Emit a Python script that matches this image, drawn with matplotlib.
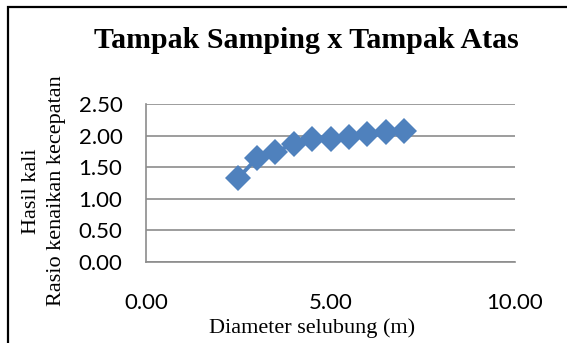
import matplotlib.pyplot as plt
from matplotlib.patches import Rectangle

# diameter (m) vs. product of speed-increase ratios
diameter = [2.5, 3.0, 3.5, 4.0, 4.5, 5.0, 5.5, 6.0, 6.5, 7.0]
hasil_kali = [1.33, 1.64, 1.74, 1.87, 1.95, 1.94, 1.97, 2.03, 2.05, 2.08]

x_ticks = [0, 5, 10]
y_ticks = [0, 0.5, 1.0, 1.5, 2.0, 2.5]

serif = ['Liberation Serif', 'DejaVu Serif']
sans = ['Lato', 'DejaVu Sans']

fig = plt.figure(figsize=(5.67, 3.43), dpi=100)

# chart frame (only top and left edges fall inside the image)
fig.patches.append(Rectangle((7.5 / 567, -0.1), 1.2, 1 - 6.5 / 343 + 0.1,
                             transform=fig.transFigure, fill=False,
                             edgecolor='black', linewidth=1.6))

ax = fig.add_axes([146 / 567, 1 - 262 / 343, (515 - 146) / 567, (262 - 104) / 343])
ax.plot(diameter, hasil_kali, color='#4F81BD', linewidth=2.8,
        marker='D', markersize=13, markeredgewidth=0)

ax.set_xlim(0, 10)
ax.set_ylim(0, 2.5)
ax.set_xticks(x_ticks)
ax.set_yticks(y_ticks)
ax.set_xticklabels([f'{v:.2f}' for v in x_ticks], fontfamily=sans, fontsize=16)
ax.set_yticklabels([f'{v:.2f}' for v in y_ticks], fontfamily=sans, fontsize=16)
ax.tick_params(length=0)
ax.tick_params(axis='y', pad=17)
ax.tick_params(axis='x', pad=22)

ax.grid(axis='y', color='#8c8c8c', linewidth=1.2)
for side in ['top', 'right']:
    ax.spines[side].set_visible(False)
for side in ['left', 'bottom']:
    ax.spines[side].set_color('#8c8c8c')
    ax.spines[side].set_linewidth(1.2)
ax.set_axisbelow(True)

fig.text(306 / 567, 1 - 40 / 343, 'Tampak Samping x Tampak Atas',
         ha='center', va='center', fontfamily=serif, fontsize=21.5, fontweight='bold')
fig.text(312 / 567, 1 - 328 / 343, 'Diameter selubung (m)',
         ha='center', va='center', fontfamily=serif, fontsize=16)
fig.text(44 / 567, 1 - 191 / 343, 'Hasil kali\nRasio kenaikan kecepatan',
         ha='center', va='center', rotation=90, fontfamily=serif, fontsize=16,
         multialignment='center', linespacing=1.45)

fig.savefig('out.png', dpi=100)
